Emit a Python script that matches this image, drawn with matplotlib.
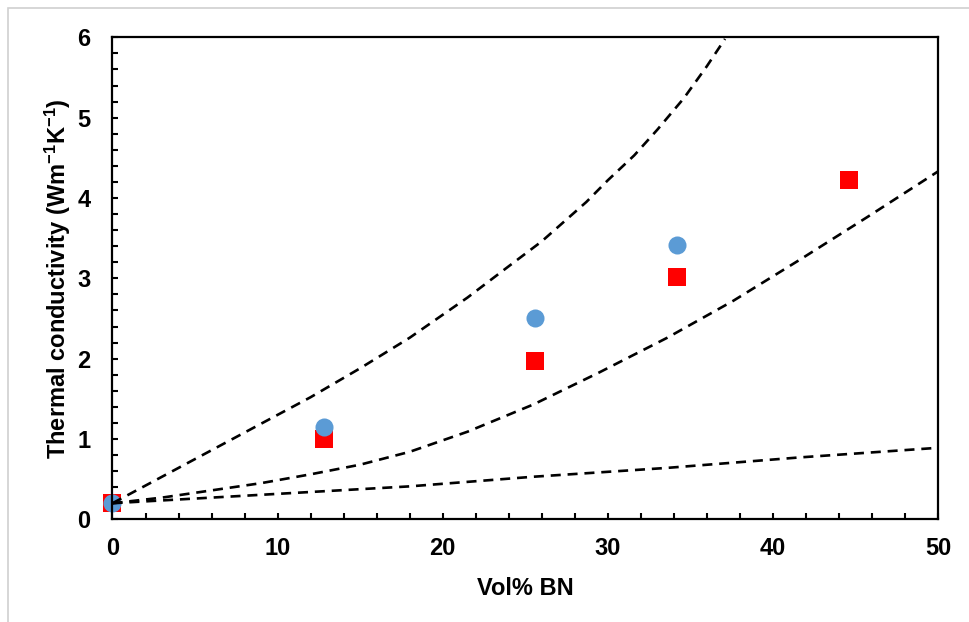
"""
Thermal conductivity vs BN loading, measured points with three model curves.
"""
import numpy as np
import matplotlib.pyplot as plt
from matplotlib.patches import Rectangle
from matplotlib.ticker import MultipleLocator

plt.rcParams['font.family'] = ['Liberation Sans', 'DejaVu Sans']
plt.rcParams['font.weight'] = 'bold'
plt.rcParams['mathtext.fontset'] = 'custom'
plt.rcParams['mathtext.rm'] = 'Liberation Sans:bold'
plt.rcParams['mathtext.it'] = 'Liberation Sans:bold'
plt.rcParams['mathtext.bf'] = 'Liberation Sans:bold'

## measured data
vol_sq = [0, 12.8, 25.6, 34.2, 44.6]
k_sq = [0.2, 1.0, 1.97, 3.02, 4.22]
vol_circ = [0, 12.8, 25.6, 34.2]
k_circ = [0.2, 1.15, 2.5, 3.42]

## model curves
upper_x = [0, 3, 6, 9, 12, 15, 18, 21.5, 24, 26, 28.7, 30, 31.6, 33, 34.6, 36, 37.1]
upper_y = [0.2, 0.53, 0.86, 1.19, 1.52, 1.88, 2.26, 2.76, 3.15, 3.46, 3.95, 4.22, 4.53, 4.85, 5.24, 5.64, 5.98]
middle_x = [0, 3, 6, 9, 12, 15, 18, 21.5, 25.5, 29.5, 33.6, 37.6, 41.7, 45.7, 50]
middle_y = [0.2, 0.27, 0.36, 0.45, 0.56, 0.68, 0.84, 1.09, 1.43, 1.83, 2.26, 2.72, 3.24, 3.76, 4.33]
lower_x = [0, 6, 12, 18, 25.5, 33.6, 41.6, 50]
lower_y = [0.2, 0.27, 0.34, 0.41, 0.53, 0.64, 0.77, 0.89]

fig = plt.figure(figsize=(9.7, 6.22), dpi=100)
## light grey chart-area border (only top and left edges fall inside the picture)
fig.patches.append(Rectangle((8.5/970, -0.05), 1.1, 1 - 7.5/622 + 0.05,
                             transform=fig.transFigure, fill=False,
                             edgecolor='#d0d0d0', linewidth=1.2))
ax = fig.add_axes([112.5/970, 1 - 519.3/622, (938 - 112.5)/970, (519.3 - 37.3)/622])

ax.plot(vol_sq, k_sq, linestyle='none', marker='s', markersize=12.7,
        color='#ff0000', markeredgewidth=0, zorder=3, clip_on=False)
ax.plot(vol_circ, k_circ, linestyle='none', marker='o', markersize=13,
        color='#5b9bd5', markeredgewidth=0, zorder=4, clip_on=False)
for xs, ys in [(upper_x, upper_y), (middle_x, middle_y), (lower_x, lower_y)]:
    ax.plot(xs, ys, color='black', linewidth=1.9, dashes=(3.8, 2.6), zorder=5)

ax.set_xlim(0, 50)
ax.set_ylim(0, 6)
ax.xaxis.set_major_locator(MultipleLocator(10))
ax.xaxis.set_minor_locator(MultipleLocator(2))
ax.yaxis.set_major_locator(MultipleLocator(1))
ax.yaxis.set_minor_locator(MultipleLocator(0.2))
ax.tick_params(which='both', direction='in', width=1.5, length=4.5,
               top=False, right=False, labelsize=17)
ax.tick_params(axis='x', which='major', pad=13)
ax.tick_params(axis='y', which='major', pad=16)
for s in ax.spines.values():
    s.set_linewidth(1.6)
    s.set_zorder(6)

ax.set_xlabel('Vol% BN', fontsize=17, fontweight='bold', labelpad=12)
ax.set_ylabel(r'Thermal conductivity (Wm$^{-1}$K$^{-1}$)', fontsize=17,
              fontweight='bold', labelpad=3)

fig.savefig('out.png', dpi=100)
